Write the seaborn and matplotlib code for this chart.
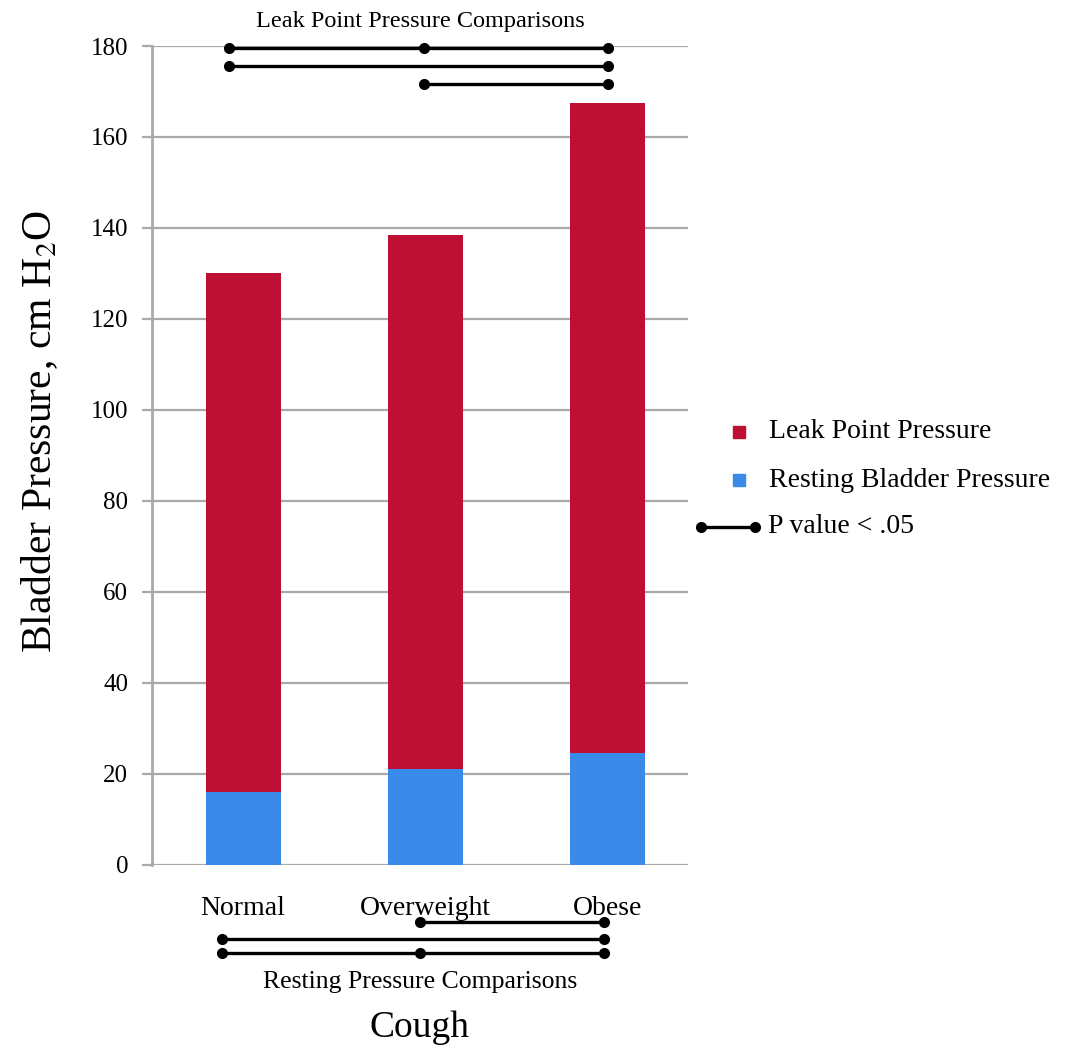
import matplotlib
matplotlib.use("Agg")
import matplotlib.pyplot as plt
import seaborn as sns
import pandas as pd
from matplotlib.lines import Line2D
from matplotlib.patches import Rectangle

# data
groups = ["Normal", "Overweight", "Obese"]
leak_point = [130, 138.5, 167.5]
resting = [16, 21, 24.5]

# significant pairs (P < .05), each row lists the groups joined by one line
leak_rows = [[0, 1, 2], [0, 2], [1, 2]]
resting_rows = [[1, 2], [0, 2], [0, 1, 2]]

RED = "#BE0F34"
BLUE = "#3A8AEA"
GRID = "#a9a9a9"

sns.set_theme(style="white")
plt.rcParams["font.family"] = ["Liberation Serif", "DejaVu Serif"]
plt.rcParams["mathtext.fontset"] = "stix"
plt.rcParams["text.color"] = "black"
plt.rcParams["axes.labelcolor"] = "black"
plt.rcParams["xtick.color"] = "black"
plt.rcParams["ytick.color"] = "black"

df = pd.DataFrame({"group": groups, "leak": leak_point, "resting": resting})

fig = plt.figure(figsize=(10.68, 10.60), dpi=100)
ax = fig.add_axes([0.1423, 0.1840, 0.5019, 0.7726])

sns.barplot(data=df, x="group", y="leak", color=RED, width=0.41,
            saturation=1, linewidth=0, ax=ax, zorder=3)
sns.barplot(data=df, x="group", y="resting", color=BLUE, width=0.41,
            saturation=1, linewidth=0, ax=ax, zorder=3)

ax.set_xlim(-0.5, 2.44)
ax.set_ylim(0, 180)
ax.set_yticks(range(0, 181, 20))
ax.yaxis.grid(True, color=GRID, lw=1.6, zorder=0)
ax.set_axisbelow(True)
for side in ["top", "right", "bottom"]:
    ax.spines[side].set_visible(False)
ax.spines["left"].set_color(GRID)
ax.spines["left"].set_linewidth(2)
ax.tick_params(axis="y", left=True, length=7, width=1.6, color=GRID,
               labelcolor="black", pad=10, labelsize=18)
ax.tick_params(axis="x", bottom=False, pad=16, labelsize=20)
ax.set_xlabel("")
ax.set_ylabel(r"Bladder Pressure, cm H$_2$O", fontsize=30)
ax.yaxis.set_label_coords(-0.172, 0.529)

# comparison brackets
top_y = [179.6, 175.6, 171.6]
top_x = [-0.08, 0.99, 2.0]
for row, y in zip(leak_rows, top_y):
    xs = [top_x[i] for i in row]
    ax.plot(xs, [y] * len(xs), color="black", lw=2.4, marker="o", ms=7,
            clip_on=False, zorder=5)

bot_y = [-12.5, -16.3, -19.3]
bot_x = [-0.115, 0.97, 1.98]
for row, y in zip(resting_rows, bot_y):
    xs = [bot_x[i] for i in row]
    ax.plot(xs, [y] * len(xs), color="black", lw=2.4, marker="o", ms=7,
            clip_on=False, zorder=5)

ax.text(0.97, 185.3, "Leak Point Pressure Comparisons", ha="center",
        va="center", fontsize=17.5)
ax.text(0.97, -25.8, "Resting Pressure Comparisons", ha="center",
        va="center", fontsize=18.5)
ax.text(0.97, -35.8, "Cough", ha="center", va="center", fontsize=27)

# legend, drawn by hand
sq = 12 / 1068
for yc, col, lab in [(0.5925, RED, "Leak Point Pressure"),
                     (0.5470, BLUE, "Resting Bladder Pressure")]:
    fig.add_artist(Rectangle((0.692 - sq / 2, yc - sq / 2), sq, sq * 1068 / 1060,
                             transform=fig.transFigure, color=col))
    fig.text(0.720, yc, lab, va="center", ha="left", fontsize=20)
fig.add_artist(Line2D([0.656, 0.707], [0.503, 0.503], transform=fig.transFigure,
                      color="black", lw=2.4, marker="o", ms=7))
fig.text(0.719, 0.503, "P value < .05", va="center", ha="left", fontsize=20)

fig.savefig("out.png", dpi=100, facecolor="white")
